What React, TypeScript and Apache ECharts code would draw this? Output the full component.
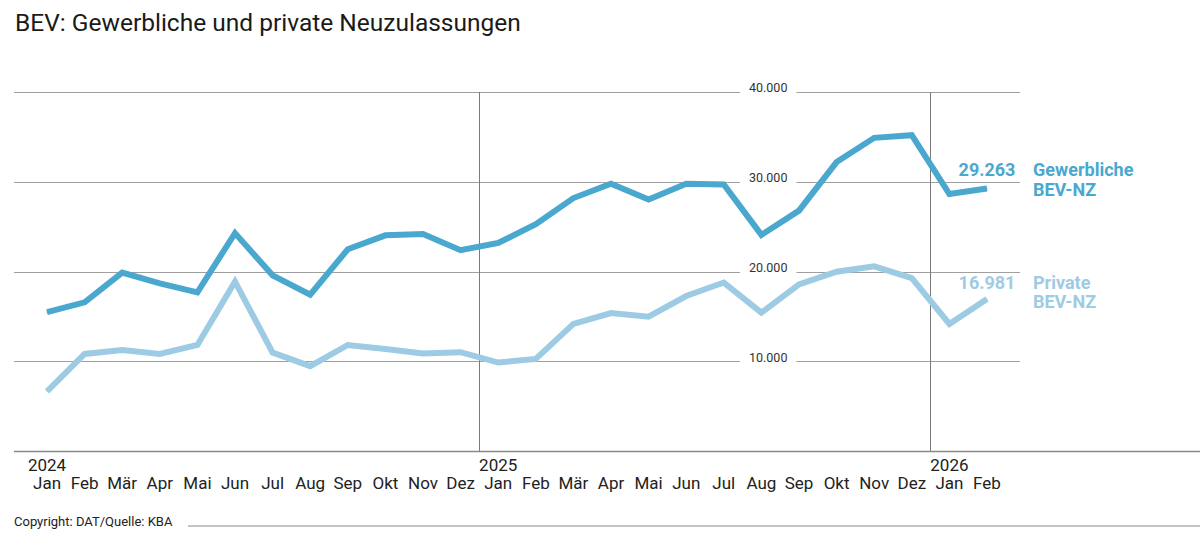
import React, { useEffect, useRef } from "react";
import * as echarts from "echarts";

const months = ["Jan", "Feb", "Mär", "Apr", "Mai", "Jun", "Jul", "Aug", "Sep", "Okt", "Nov", "Dez",
  "Jan", "Feb", "Mär", "Apr", "Mai", "Jun", "Jul", "Aug", "Sep", "Okt", "Nov", "Dez", "Jan", "Feb"];
const years = ["2024", "2025", "2026"];
const yearStartIndex = [0, 12, 24];
const gewerblich = [15500, 16600, 19900, 18700, 17700, 24300, 19600, 17450, 22500, 24050, 24200, 22400,
  23200, 25300, 28200, 29800, 28050, 29800, 29700, 24100, 26800, 32200, 34900, 35200, 28650, 29263];
const privat = [6700, 10850, 11300, 10850, 11850, 18900, 11000, 9500, 11850, 11400, 10900, 11050,
  9900, 10300, 14200, 15400, 15000, 17300, 18800, 15450, 18600, 20000, 20600, 19300, 14200, 16981];
const seriesNames = ["Gewerbliche\nBEV-NZ", "Private\nBEV-NZ"];
const colors = ["#4aa8cf", "#9ecbe4"];
const yTicks = [0, 10000, 20000, 30000, 40000];

const FONT = "Roboto, 'Noto Sans', sans-serif";

// layout (pixels)
const GRID_TOP = 92;
const GRID_BOTTOM = 94.5;
const LINE_LEFT = 14;
const LINE_RIGHT = 1020;
const FIRST_X = 47;
const STEP = 37.6;

function fmt(v: number): string {
  return String(Math.round(v)).replace(/\B(?=(\d{3})+(?!\d))/g, ".");
}

function makeSeries(name: string, data: number[], color: string, valDist: number, nameOffset: number) {
  const last = data.length - 1;
  return {
    type: "line",
    name,
    xAxisIndex: 1,
    yAxisIndex: 1,
    symbol: "circle",
    symbolSize: 1,
    showSymbol: true,
    itemStyle: { color },
    lineStyle: { color, width: 6, cap: "butt", join: "miter" },
    z: 5,
    data: data.map((v, i) =>
      i === last
        ? {
            value: v,
            label: {
              show: true,
              position: "top",
              distance: valDist,
              formatter: () => fmt(v),
              color,
              fontFamily: FONT,
              fontWeight: "bold",
              fontSize: 18,
              lineHeight: 18,
            },
          }
        : v
    ),
    endLabel: {
      show: true,
      formatter: name,
      distance: 46,
      offset: [0, nameOffset],
      color,
      fontFamily: FONT,
      fontWeight: "bold",
      fontSize: 18,
      lineHeight: 19.5,
    },
  };
}

export default function App() {
  const ref = useRef<HTMLDivElement>(null);
  useEffect(() => {
    document.body.style.margin = "0";
    const chart = echarts.init(ref.current!, null, { renderer: "svg" });
    const yearAt: Record<number, string> = {};
    yearStartIndex.forEach((idx, k) => (yearAt[idx] = years[k]));
    const nLen = months.length;
    const gridW = nLen * STEP;
    const grid1Left = FIRST_X - STEP / 2;
    const xMin0 = (LINE_LEFT - FIRST_X) / STEP;
    const xMax0 = (LINE_RIGHT - FIRST_X) / STEP;
    chart.setOption({
      animation: false,
      backgroundColor: "#ffffff",
      title: {
        text: "BEV: Gewerbliche und private Neuzulassungen",
        left: 10,
        top: 5,
        textStyle: { fontFamily: FONT, fontSize: 24.5, fontWeight: "normal", color: "#1a1a1a" },
      },
      grid: [
        { left: LINE_LEFT, right: 1200 - LINE_RIGHT, top: GRID_TOP, bottom: GRID_BOTTOM },
        { left: grid1Left, right: 1200 - grid1Left - gridW, top: GRID_TOP, bottom: GRID_BOTTOM },
      ],
      xAxis: [
        { type: "value", gridIndex: 0, show: false, min: xMin0, max: xMax0 },
        {
          type: "category",
          gridIndex: 1,
          data: months,
          boundaryGap: true,
          axisLine: { show: false },
          axisTick: { show: false },
          splitLine: { show: false },
          axisLabel: {
            interval: 0,
            margin: 4.5,
            formatter: (v: string, i: number) =>
              (yearAt[i] ? "{y|" + yearAt[i] + "}" : "{y|\u00a0}") + "\n{m|" + v + "}",
            rich: {
              y: { fontFamily: FONT, fontSize: 17, lineHeight: 18, color: "#222", align: "left" },
              m: { fontFamily: FONT, fontSize: 17, lineHeight: 18, color: "#222", align: "center" },
            },
          },
        },
      ],
      yAxis: [
        {
          type: "value",
          gridIndex: 0,
          min: yTicks[0],
          max: yTicks[yTicks.length - 1],
          interval: yTicks[1] - yTicks[0],
          axisLine: { show: false },
          axisTick: { show: false },
          splitLine: { show: true, lineStyle: { color: "#a0a0a0", width: 1 } },
          axisLabel: {
            inside: true,
            margin: 726,
            showMinLabel: false,
            formatter: (v: number) => "{a|" + fmt(v) + "}",
            rich: {
              a: {
                fontFamily: FONT,
                fontSize: 12.5,
                lineHeight: 22,
                color: "#333",
                verticalAlign: "top",
              },
            },
            verticalAlign: "middle",
            backgroundColor: "#ffffff",
            padding: [0, 9, 0, 9],
          },
        },
        {
          type: "value",
          gridIndex: 1,
          min: yTicks[0],
          max: yTicks[yTicks.length - 1],
          show: false,
        },
      ],
      series: [
        makeSeries(seriesNames[0], gewerblich, colors[0], 9, -9),
        makeSeries(seriesNames[1], privat, colors[1], 7, -7),
        {
          type: "line",
          xAxisIndex: 0,
          yAxisIndex: 0,
          data: [],
          silent: true,
          z: 1,
          markLine: {
            silent: true,
            symbol: "none",
            label: { show: false },
            lineStyle: { color: "#7a7a7a", width: 1, type: "solid" },
            data: yearStartIndex.slice(1).map((i) => ({ xAxis: i - 0.5 })),
          },
        },
      ],
      graphic: [
        {
          type: "line",
          shape: { x1: LINE_LEFT, y1: 546 - GRID_BOTTOM, x2: 1200, y2: 546 - GRID_BOTTOM },
          style: { stroke: "#888", lineWidth: 1.5 },
          z: 10,
        },
        {
          type: "text",
          x: 14,
          y: 521,
          style: {
            text: "Copyright: DAT/Quelle: KBA",
            fontFamily: "'Liberation Sans Narrow', Roboto, sans-serif",
            fontSize: 13,
            fill: "#222",
            verticalAlign: "middle",
          },
        },
        {
          type: "line",
          shape: { x1: 188, y1: 526, x2: 1200, y2: 526 },
          style: { stroke: "#888", lineWidth: 1 },
        },
      ],
    });
    return () => chart.dispose();
  }, []);
  return <div ref={ref} style={{ width: 1200, height: 546 }} />;
}
